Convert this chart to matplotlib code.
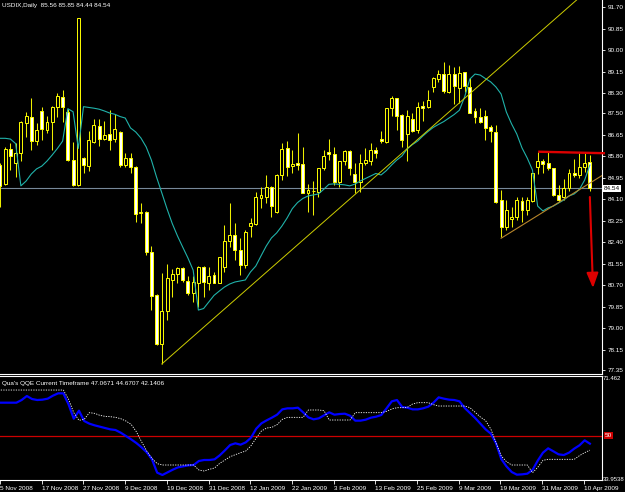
import matplotlib
matplotlib.use("Agg")
import matplotlib.pyplot as plt
from matplotlib.patches import Rectangle
import matplotlib.transforms as mtransforms

plt.rcParams['font.family'] = ['Liberation Sans', 'DejaVu Sans']

# ---------------- data ----------------
opens = [85.46, 84.70, 86.08, 85.52, 85.94, 87.13, 87.36, 86.42, 87.60, 86.84,
         87.17, 87.76, 88.15, 87.56, 85.65, 84.66, 85.72, 85.42, 86.38, 87.00,
         86.49, 86.68, 86.47, 86.77, 85.46, 85.74, 85.39, 83.55, 83.61, 82.03,
         80.32, 78.38, 79.70, 80.91, 81.15, 81.37, 80.88, 80.38, 80.78, 81.43,
         80.80, 81.11, 80.80, 81.43, 82.46, 82.69, 82.09, 81.50, 83.04, 83.12,
         84.15, 84.20, 84.60, 83.61, 85.06, 86.12, 85.42, 85.52, 85.48, 84.36,
         84.42, 84.40, 85.32, 85.98, 85.89, 84.79, 85.61, 85.99, 85.09, 84.79,
         85.52, 85.62, 86.05, 86.48, 86.38, 87.70, 88.09, 87.43, 86.67, 87.26,
         86.84, 87.79, 87.73, 88.53, 88.85, 89.05, 88.35, 89.04, 88.49, 89.12,
         88.53, 87.59, 87.36, 87.39, 86.94, 86.77, 84.07, 83.02, 83.31, 83.41,
         84.03, 83.68, 84.03, 85.39, 85.61, 85.52, 85.32, 84.27, 84.18, 84.53,
         85.15, 85.06, 85.38, 85.56]
highs = [85.53, 86.15, 86.31, 86.31, 87.19, 87.56, 88.12, 87.13, 87.74, 87.39,
         87.79, 88.29, 88.42, 87.66, 86.38, 91.27, 85.78, 86.80, 87.26, 87.26,
         87.21, 87.63, 87.47, 86.80, 85.92, 85.92, 85.42, 83.94, 83.63, 82.25,
         80.34, 81.17, 81.54, 81.33, 81.43, 81.43, 81.07, 81.07, 81.46, 81.46,
         81.43, 81.24, 81.83, 83.08, 83.94, 83.15, 82.56, 82.89, 83.36, 84.40,
         84.60, 85.06, 84.62, 85.10, 86.31, 86.42, 86.05, 86.73, 86.18, 84.70,
         84.83, 85.34, 86.05, 86.47, 86.18, 85.63, 86.05, 86.05, 85.52, 85.89,
         86.11, 86.31, 86.15, 86.81, 87.71, 88.18, 88.12, 87.46, 87.63, 87.50,
         87.96, 88.00, 88.42, 88.94, 89.21, 89.54, 89.41, 89.34, 89.37, 89.15,
         88.88, 87.70, 87.70, 87.63, 87.04, 87.04, 84.47, 84.07, 83.79, 84.20,
         84.20, 84.19, 85.15, 85.98, 85.68, 85.96, 85.35, 84.66, 84.89, 85.28,
         85.68, 85.92, 85.93, 85.85]
lows = [83.79, 84.66, 85.26, 84.97, 85.62, 86.57, 86.05, 86.25, 86.44, 86.71,
        86.05, 87.34, 87.17, 85.63, 84.62, 84.62, 85.13, 85.23, 86.34, 86.21,
        86.44, 86.05, 86.35, 85.36, 85.39, 85.13, 83.21, 83.15, 81.90, 79.72,
        78.34, 77.59, 79.33, 80.25, 80.78, 80.84, 80.32, 80.05, 79.85, 80.25,
        80.51, 80.78, 80.78, 81.24, 82.23, 81.70, 81.11, 81.38, 82.61, 83.08,
        83.74, 83.94, 83.41, 83.55, 84.86, 85.02, 85.13, 85.26, 84.34, 83.61,
        83.48, 84.20, 85.26, 85.65, 84.66, 84.60, 85.46, 85.06, 84.34, 84.40,
        85.46, 85.46, 85.72, 86.31, 86.34, 87.39, 86.84, 86.18, 85.60, 86.77,
        86.71, 87.21, 87.70, 88.35, 88.75, 88.29, 88.29, 87.87, 87.89, 88.35,
        87.50, 87.10, 87.10, 86.44, 86.38, 83.94, 82.62, 82.89, 83.02, 83.28,
        83.21, 83.48, 84.00, 85.10, 85.13, 85.26, 84.23, 84.00, 84.07, 84.44,
        84.99, 84.93, 85.18, 84.44]
closes = [84.62, 86.08, 85.82, 85.92, 87.14, 87.39, 86.42, 86.84, 86.88, 87.14,
          87.76, 88.18, 87.76, 85.65, 84.66, 91.25, 85.46, 86.44, 87.04, 86.49,
          86.64, 86.44, 86.87, 85.46, 85.74, 85.39, 83.52, 83.61, 82.03, 80.28,
          78.38, 79.70, 80.98, 81.15, 81.37, 80.91, 80.38, 80.84, 81.43, 80.84,
          81.07, 80.80, 81.81, 82.46, 82.69, 82.09, 81.50, 82.81, 83.16, 84.18,
          84.27, 84.60, 83.85, 85.06, 86.08, 85.39, 85.48, 85.44, 84.36, 84.47,
          84.44, 85.32, 85.81, 85.89, 84.79, 85.61, 85.99, 85.32, 84.79, 85.52,
          85.65, 86.05, 85.92, 86.40, 87.70, 88.09, 87.39, 86.44, 87.39, 86.81,
          87.76, 87.72, 88.02, 88.88, 89.04, 88.39, 89.05, 88.59, 89.10, 88.58,
          87.52, 87.36, 87.17, 86.90, 86.81, 84.00, 83.02, 83.68, 83.41, 84.07,
          83.68, 84.07, 85.13, 85.61, 85.48, 85.32, 84.27, 84.07, 84.53, 85.13,
          85.06, 85.38, 85.53, 84.54]
ma_line = [86.51, 86.51, 86.48, 86.30, 84.63, 84.82, 85.10, 85.30, 85.41, 85.61,
           85.85, 86.11, 86.40, 87.68, 87.56, 86.11, 87.76, 87.73, 87.70, 87.66,
           87.59, 87.51, 87.46, 87.37, 87.31, 86.92, 86.76, 86.52, 86.17, 85.65,
           84.97, 84.35, 83.72, 83.14, 82.65, 82.21, 81.78, 81.30, 79.72, 79.78,
           80.04, 80.30, 80.47, 80.63, 80.75, 80.83, 80.87, 80.91, 81.23, 81.46,
           81.86, 82.25, 82.57, 82.77, 83.04, 83.36, 83.73, 83.97, 84.13, 84.23,
           84.27, 84.31, 84.49, 84.69, 84.71, 84.69, 84.67, 84.63, 84.70, 84.82,
           84.92, 85.02, 85.12, 85.06, 85.23, 85.45, 85.65, 85.81, 86.09, 86.26,
           86.40, 86.60, 86.78, 86.94, 87.06, 87.17, 87.31, 87.45, 87.62, 88.14,
           88.85, 89.05, 89.01, 88.87, 88.74, 88.54, 88.26, 87.55, 87.08, 86.68,
           86.13, 85.73, 85.26, 83.83, 83.64, 83.76, 83.83, 83.95, 84.07, 84.23,
           84.31, 84.49, 84.86, 85.45]
qqe_rsi = [62.30, 62.30, 62.30, 62.30, 63.29, 64.78, 63.66, 63.29, 63.42, 63.79,
           64.90, 65.77, 65.77, 61.68, 56.36, 59.33, 55.49, 54.50, 53.88, 53.39,
           52.89, 52.40, 52.15, 51.16, 49.92, 48.68, 47.32, 45.71, 43.85, 41.26,
           36.30, 35.44, 36.43, 37.42, 38.28, 38.65, 39.03, 39.15, 40.64, 41.01,
           41.01, 41.26, 42.74, 44.60, 46.58, 47.20, 46.70, 47.57, 49.30, 52.64,
           54.63, 55.74, 56.73, 57.84, 59.82, 60.20, 60.20, 60.44, 58.71, 56.85,
           56.11, 56.48, 57.60, 58.71, 57.84, 58.09, 58.21, 57.47, 55.62, 55.62,
           55.99, 56.73, 57.10, 57.72, 60.20, 62.80, 63.29, 60.69, 60.44, 59.82,
           59.82, 60.20, 60.82, 62.30, 64.28, 63.79, 63.42, 63.29, 62.80, 60.32,
           58.46, 56.61, 54.50, 52.40, 50.79, 47.20, 41.38, 38.65, 36.55, 35.56,
           35.68, 35.93, 37.29, 40.76, 43.73, 45.34, 44.23, 43.11, 42.86, 43.73,
           45.22, 46.45, 48.31, 47.07]
qqe_trail = [67.00, 67.00, 67.00, 67.00, 67.00, 67.00, 67.00, 67.00, 67.00, 67.00,
             67.00, 67.00, 67.00, 63.54, 58.59, 55.74, 56.11, 58.59, 58.34, 57.60,
             57.22, 57.10, 56.85, 56.36, 55.49, 54.25, 51.53, 47.82, 44.35, 41.63,
             39.65, 39.15, 39.15, 39.15, 39.15, 39.15, 39.15, 39.15, 37.29, 36.92,
             37.54, 38.04, 39.77, 41.01, 42.25, 42.99, 43.73, 44.35, 46.33, 49.18,
             51.78, 52.89, 53.14, 54.13, 56.11, 56.85, 56.85, 56.85, 56.85, 59.58,
             59.58, 59.58, 59.33, 55.86, 55.86, 55.86, 55.86, 55.86, 58.59, 58.59,
             58.59, 58.59, 58.59, 58.59, 59.08, 59.95, 60.44, 60.44, 60.57, 61.81,
             62.30, 62.30, 62.30, 61.56, 61.06, 61.06, 61.06, 61.06, 61.06, 61.06,
             60.44, 58.71, 56.98, 55.62, 52.52, 47.45, 42.49, 40.39, 39.15, 39.15,
             39.15, 39.15, 36.30, 38.28, 40.88, 41.26, 41.26, 41.26, 41.26, 41.26,
             41.26, 42.62, 43.73, 44.67]

price_ticks = [91.70, 90.85, 90.00, 89.15, 88.30, 87.50, 86.65, 85.80, 84.95,
               84.10, 83.25, 82.40, 81.55, 80.70, 79.85, 79.00, 78.15, 77.35]
price_tick_labels = ['91.70', '90.85', '90.00', '89.15', '88.30', '87.50', '86.65',
                     '85.80', '84.95', '84.10', '83.25', '82.40', '81.55', '80.70',
                     '79.85', '79.00', '78.15', '77.35']
qqe_ticks = [71.462, 33.9538]
qqe_tick_labels = ['71.462', '33.9538']
qqe_level = 50
date_label_bars = [1, 9, 17, 25, 33, 41, 49, 57, 65, 73, 81, 89, 97, 105, 113]
date_labels = ['5 Nov 2008', '17 Nov 2008', '27 Nov 2008', '9 Dec 2008', '19 Dec 2008',
               '31 Dec 2008', '12 Jan 2009', '22 Jan 2009', '3 Feb 2009', '13 Feb 2009',
               '25 Feb 2009', '9 Mar 2009', '19 Mar 2009', '31 Mar 2009', '10 Apr 2009']

# drawn objects (bar index, price)
uptrend_x = [31, 116]
uptrend_y = [77.59, 92.98]
triangle_x = [96, 115.5]
triangle_y = [82.56, 85.06]
resist_x = [103.1, 115.9]
resist_y = [85.98, 85.92]
arrow_x = [113.0, 113.6]
arrow_y = [84.19, 80.59]

main_title = 'USDIX,Daily  85.56 85.85 84.44 84.54'
qqe_title = "Qua's QQE Current Timeframe 47.0671 44.6707 42.1406"

# ---------------- figure ----------------
FIG_W, FIG_H, DPI = 625, 492, 100
FS = 4.6
fig = plt.figure(figsize=(FIG_W / DPI, FIG_H / DPI), dpi=DPI, facecolor='black')


def px_axes(left, top, right, bottom):
    a = fig.add_axes([left / FIG_W, 1 - bottom / FIG_H,
                      (right - left) / FIG_W, (bottom - top) / FIG_H])
    a.set_facecolor('black')
    return a


ax = px_axes(0, 0, 602, 374)
ax2 = px_axes(0, 376, 602, 480)

YEL = '#FFFF00'
n = len(opens)
bars = list(range(n))
body_w = 0.56

# price line (current close)
ax.axhline(closes[-1], color='#778899', lw=0.8, zorder=1)

ax.vlines(bars, lows, highs, color='#EEEE00', lw=0.75, zorder=2)
for i in bars:
    o, c = opens[i], closes[i]
    lo, hi = min(o, c), max(o, c)
    h = max(hi - lo, 0.02)
    fc = 'white' if c < o else 'black'
    ax.add_patch(Rectangle((i - body_w / 2, lo), body_w, h, facecolor=fc,
                           edgecolor=YEL, lw=0.7, zorder=3))

ax.plot(bars, ma_line, color='#20B2AA', lw=0.8, zorder=4)
ax.plot(uptrend_x, uptrend_y, color='#CDCD00', lw=0.7, zorder=5)
ax.plot(triangle_x, triangle_y, color='#B8862A', lw=0.8, zorder=5)
ax.plot(resist_x, resist_y, color='#DD0000', lw=1.7, zorder=6, clip_on=False,
        solid_capstyle='butt')
ax.annotate('', xy=(arrow_x[1], arrow_y[1]), xytext=(arrow_x[0], arrow_y[0]),
            arrowprops=dict(arrowstyle='-|>,head_length=0.9,head_width=0.35',
                            color='#DD0000', lw=1.5, shrinkA=0, shrinkB=0),
            zorder=6)

ax.set_xlim(0, 602 / 5.22)
ax.set_ylim(77.193, 91.977)
ax.set_xticks([])
ax.yaxis.tick_right()
ax.set_yticks(price_ticks)
ax.set_yticklabels(price_tick_labels)
ax.tick_params(axis='y', colors='white', labelsize=FS, length=2.5, width=0.6, pad=1.5)
for s in ('left', 'top'):
    ax.spines[s].set_visible(False)
for s in ('right', 'bottom'):
    ax.spines[s].set_color('white')
    ax.spines[s].set_linewidth(0.8)

ax.text(2 / 602, 1 - 5 / 374, main_title, transform=ax.transAxes, color='white',
        fontsize=FS, va='center', ha='left')
blend = mtransforms.blended_transform_factory(ax.transAxes, ax.transData)
ax.text(1 + 2 / 602, closes[-1], '%.2f' % closes[-1], transform=blend, color='black',
        fontsize=FS, va='center', ha='left', zorder=10,
        bbox=dict(facecolor='white', edgecolor='none', pad=0.8))

# ---------------- QQE panel ----------------
ax2.axhline(qqe_level, color='#CC0000', lw=0.9, zorder=1)
ax2.plot(bars, qqe_rsi, color='#0000FF', lw=1.6, zorder=2)
ax2.plot(bars, qqe_trail, color='white', lw=0.6, ls=(0, (1.5, 1.5)), zorder=3)
ax2.set_xlim(0, 602 / 5.22)
ax2.set_ylim(33.58, 72.21)
ax2.yaxis.tick_right()
ax2.set_yticks(qqe_ticks)
ax2.set_yticklabels(qqe_tick_labels)
ax2.tick_params(axis='y', colors='white', labelsize=4.3, length=0, pad=0.5)
ax2.set_xticks([b - 1.15 for b in date_label_bars])
ax2.set_xticklabels(date_labels)
ax2.tick_params(axis='x', colors='white', labelsize=FS, length=3, width=0.6, pad=1)
for lab in ax2.get_xticklabels():
    lab.set_horizontalalignment('left')
ax2.spines['left'].set_visible(False)
for s in ('right', 'bottom', 'top'):
    ax2.spines[s].set_color('white')
    ax2.spines[s].set_linewidth(0.8)
ax2.text(2 / 602, 1 - 8 / 104, qqe_title, transform=ax2.transAxes, color='white',
         fontsize=FS, va='center', ha='left')
blend2 = mtransforms.blended_transform_factory(ax2.transAxes, ax2.transData)
ax2.text(1 + 3 / 602, qqe_level, '%d' % qqe_level, transform=blend2, color='white',
         fontsize=FS, va='center', ha='left', zorder=10,
         bbox=dict(facecolor='#CC0000', edgecolor='none', pad=0.6))

fig.savefig('out.png', dpi=DPI, facecolor='black')
